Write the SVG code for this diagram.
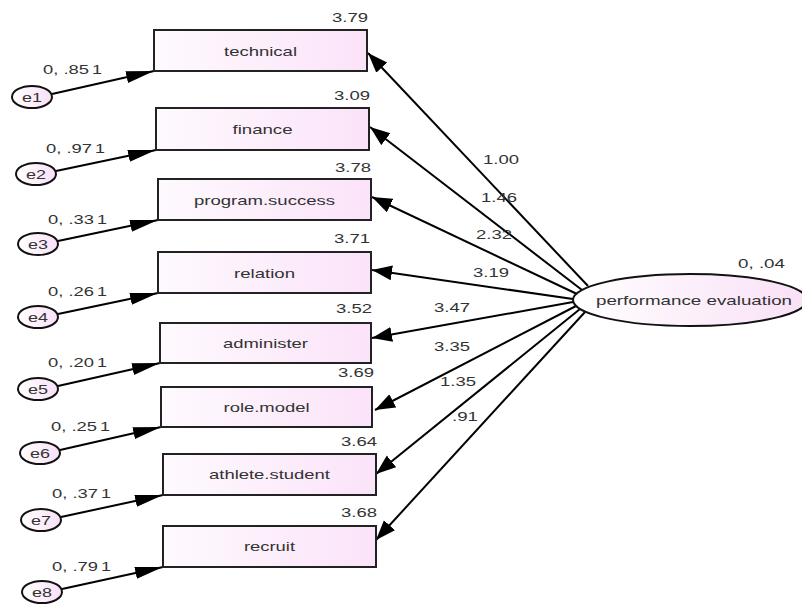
<svg xmlns="http://www.w3.org/2000/svg" width="802" height="607" viewBox="0 0 802 607">
<defs>
<linearGradient id="gb" x1="0" y1="0" x2="1" y2="0"><stop offset="0" stop-color="#fefafe"/><stop offset="1" stop-color="#fbe3f9"/></linearGradient>
<linearGradient id="ge" x1="0" y1="0" x2="1" y2="0"><stop offset="0" stop-color="#ffffff"/><stop offset="1" stop-color="#f9e0f6"/></linearGradient>
<marker id="ah" markerUnits="userSpaceOnUse" markerWidth="22" markerHeight="16" refX="20" refY="7.5" orient="auto"><path d="M0,0 L20,7.5 L0,15 z" fill="#000"/></marker>
<marker id="ahe" markerUnits="userSpaceOnUse" markerWidth="30" markerHeight="14" refX="28" refY="6" orient="auto"><path d="M0,0 L28,6 L0,12 z" fill="#000"/></marker>
</defs>
<style>
.box{fill:url(#gb);stroke:#222;stroke-width:2}
.err{fill:url(#ge);stroke:#111;stroke-width:2}
.lat{fill:url(#ge);stroke:#111;stroke-width:2}
.c line{stroke:#000;stroke-width:2;marker-end:url(#ah)}
.c line.ep{marker-end:url(#ahe)}
text{font-family:"Liberation Sans",Arial,sans-serif;font-size:13px;fill:#333}
.m{text-anchor:middle}
.r{text-anchor:end}
</style>
<rect width="802" height="607" fill="#fff"/>
<g id="connectors" class="c">
<line class="ep" x1="52" y1="94" x2="154" y2="71"/>
<line class="ep" x1="56" y1="171" x2="156" y2="150"/>
<line class="ep" x1="58" y1="241" x2="158" y2="220"/>
<line class="ep" x1="58" y1="314" x2="158" y2="293"/>
<line class="ep" x1="58" y1="386" x2="160" y2="363"/>
<line class="ep" x1="60" y1="450" x2="161" y2="427"/>
<line class="ep" x1="61" y1="517" x2="163" y2="495"/>
<line class="ep" x1="62" y1="589" x2="163" y2="567"/>
<line x1="588" y1="286" x2="368" y2="53"/>
<line x1="582" y1="290" x2="370" y2="127"/>
<line x1="577" y1="294" x2="372" y2="197"/>
<line x1="573" y1="299" x2="372" y2="270"/>
<line x1="573" y1="302" x2="372" y2="338"/>
<line x1="576" y1="306" x2="375" y2="410"/>
<line x1="580" y1="309" x2="376" y2="474"/>
<line x1="585" y1="312" x2="376" y2="540"/>
</g>
<g id="labels-paths">
<text x="43" y="74" textLength="46" lengthAdjust="spacingAndGlyphs">0, .85</text><text x="92" y="74" textLength="10" lengthAdjust="spacingAndGlyphs">1</text>
<text x="46" y="153" textLength="46" lengthAdjust="spacingAndGlyphs">0, .97</text><text x="95" y="153" textLength="10" lengthAdjust="spacingAndGlyphs">1</text>
<text x="48" y="224" textLength="46" lengthAdjust="spacingAndGlyphs">0, .33</text><text x="97" y="224" textLength="10" lengthAdjust="spacingAndGlyphs">1</text>
<text x="48" y="296" textLength="46" lengthAdjust="spacingAndGlyphs">0, .26</text><text x="97" y="296" textLength="10" lengthAdjust="spacingAndGlyphs">1</text>
<text x="48" y="367" textLength="46" lengthAdjust="spacingAndGlyphs">0, .20</text><text x="97" y="367" textLength="10" lengthAdjust="spacingAndGlyphs">1</text>
<text x="51" y="431" textLength="46" lengthAdjust="spacingAndGlyphs">0, .25</text><text x="100" y="431" textLength="10" lengthAdjust="spacingAndGlyphs">1</text>
<text x="52" y="498" textLength="46" lengthAdjust="spacingAndGlyphs">0, .37</text><text x="101" y="498" textLength="10" lengthAdjust="spacingAndGlyphs">1</text>
<text x="52" y="571" textLength="46" lengthAdjust="spacingAndGlyphs">0, .79</text><text x="101" y="571" textLength="10" lengthAdjust="spacingAndGlyphs">1</text>
<text x="483" y="164" textLength="36" lengthAdjust="spacingAndGlyphs">1.00</text>
<text x="481" y="202" textLength="36" lengthAdjust="spacingAndGlyphs">1.46</text>
<text x="476" y="239" textLength="36" lengthAdjust="spacingAndGlyphs">2.32</text>
<text x="473" y="277" textLength="36" lengthAdjust="spacingAndGlyphs">3.19</text>
<text x="434" y="312" textLength="36" lengthAdjust="spacingAndGlyphs">3.47</text>
<text x="434" y="351" textLength="36" lengthAdjust="spacingAndGlyphs">3.35</text>
<text x="440" y="386" textLength="36" lengthAdjust="spacingAndGlyphs">1.35</text>
<text x="452" y="421" textLength="26" lengthAdjust="spacingAndGlyphs">.91</text>
</g>
<g id="technical"><rect class="box" x="154" y="30" width="213" height="41"/><text class="m" x="260.5" y="56" textLength="73" lengthAdjust="spacingAndGlyphs">technical</text><text class="r" x="368" y="22" textLength="36" lengthAdjust="spacingAndGlyphs">3.79</text></g>
<g id="finance"><rect class="box" x="156" y="108" width="213" height="42"/><text class="m" x="262.5" y="134" textLength="60" lengthAdjust="spacingAndGlyphs">finance</text><text class="r" x="370" y="100" textLength="36" lengthAdjust="spacingAndGlyphs">3.09</text></g>
<g id="program-success"><rect class="box" x="158" y="179" width="213" height="41"/><text class="m" x="264.5" y="205" textLength="141" lengthAdjust="spacingAndGlyphs">program.success</text><text class="r" x="371" y="172" textLength="36" lengthAdjust="spacingAndGlyphs">3.78</text></g>
<g id="relation"><rect class="box" x="158" y="252" width="213" height="41"/><text class="m" x="264.5" y="278" textLength="61" lengthAdjust="spacingAndGlyphs">relation</text><text class="r" x="370" y="243" textLength="36" lengthAdjust="spacingAndGlyphs">3.71</text></g>
<g id="administer"><rect class="box" x="160" y="323" width="211" height="40"/><text class="m" x="265.5" y="348" textLength="85" lengthAdjust="spacingAndGlyphs">administer</text><text class="r" x="372" y="313" textLength="36" lengthAdjust="spacingAndGlyphs">3.52</text></g>
<g id="role-model"><rect class="box" x="161" y="387" width="211" height="40"/><text class="m" x="266.5" y="412" textLength="86" lengthAdjust="spacingAndGlyphs">role.model</text><text class="r" x="374" y="377" textLength="36" lengthAdjust="spacingAndGlyphs">3.69</text></g>
<g id="athlete-student"><rect class="box" x="163" y="454" width="213" height="41"/><text class="m" x="269.5" y="479" textLength="121" lengthAdjust="spacingAndGlyphs">athlete.student</text><text class="r" x="377" y="446" textLength="36" lengthAdjust="spacingAndGlyphs">3.64</text></g>
<g id="recruit"><rect class="box" x="163" y="526" width="213" height="41"/><text class="m" x="269.5" y="551" textLength="51" lengthAdjust="spacingAndGlyphs">recruit</text><text class="r" x="377" y="517" textLength="36" lengthAdjust="spacingAndGlyphs">3.68</text></g>
<g id="e1"><ellipse class="err" cx="32" cy="97" rx="20" ry="11"/><text class="m" x="32" y="102" textLength="20" lengthAdjust="spacingAndGlyphs">e1</text></g>
<g id="e2"><ellipse class="err" cx="36" cy="174" rx="20" ry="11"/><text class="m" x="36" y="179" textLength="20" lengthAdjust="spacingAndGlyphs">e2</text></g>
<g id="e3"><ellipse class="err" cx="38" cy="244" rx="20" ry="11"/><text class="m" x="38" y="249" textLength="20" lengthAdjust="spacingAndGlyphs">e3</text></g>
<g id="e4"><ellipse class="err" cx="38" cy="317" rx="20" ry="11"/><text class="m" x="38" y="322" textLength="20" lengthAdjust="spacingAndGlyphs">e4</text></g>
<g id="e5"><ellipse class="err" cx="38" cy="389" rx="20" ry="11"/><text class="m" x="38" y="394" textLength="20" lengthAdjust="spacingAndGlyphs">e5</text></g>
<g id="e6"><ellipse class="err" cx="40" cy="453" rx="20" ry="11"/><text class="m" x="40" y="458" textLength="20" lengthAdjust="spacingAndGlyphs">e6</text></g>
<g id="e7"><ellipse class="err" cx="41" cy="520" rx="20" ry="11"/><text class="m" x="41" y="525" textLength="20" lengthAdjust="spacingAndGlyphs">e7</text></g>
<g id="e8"><ellipse class="err" cx="42" cy="592" rx="20" ry="11"/><text class="m" x="42" y="597" textLength="20" lengthAdjust="spacingAndGlyphs">e8</text></g>
<g id="performance-evaluation"><ellipse class="lat" cx="690" cy="300" rx="117" ry="26"/><text class="m" x="694" y="305" textLength="196" lengthAdjust="spacingAndGlyphs">performance evaluation</text><text x="738" y="268" textLength="47" lengthAdjust="spacingAndGlyphs">0, .04</text></g>
</svg>
